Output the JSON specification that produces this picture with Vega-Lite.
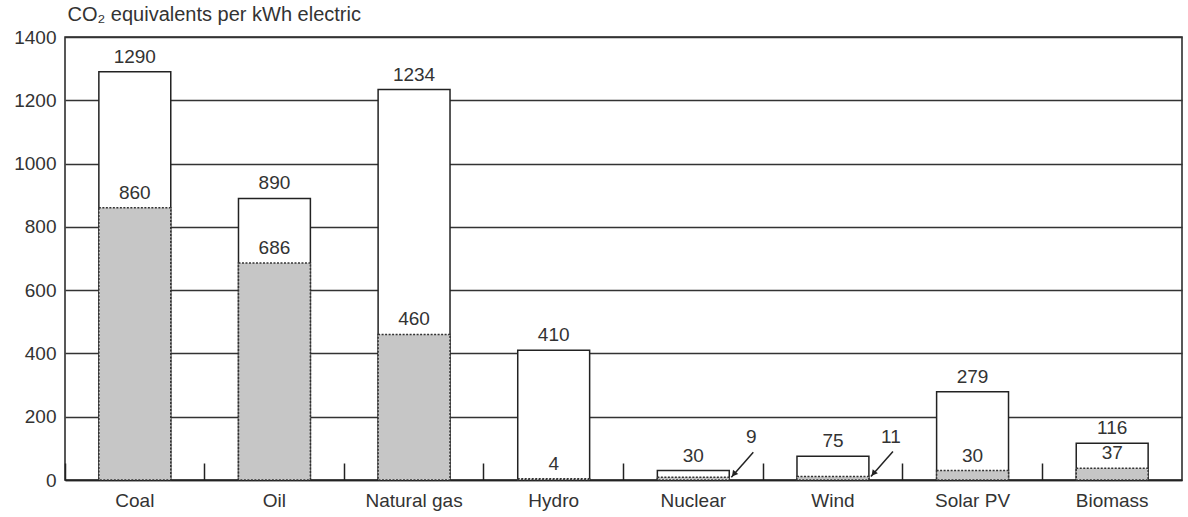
{
  "$schema": "https://vega.github.io/schema/vega-lite/v6.json",
  "autosize": {"type": "none"},
  "width": 1117,
  "height": 443,
  "padding": {"left": 65, "top": 37, "right": 6, "bottom": 37},
  "background": "white",
  "config": {
    "font": "Liberation Sans",
    "view": {"stroke": "#222", "strokeWidth": 1.5},
    "text": {"font": "Liberation Sans", "fontSize": 19, "fill": "#333"}
  },
  "data": {
    "values": [
      {"source": "Coal", "min": 860, "max": 1290},
      {"source": "Oil", "min": 686, "max": 890},
      {"source": "Natural gas", "min": 460, "max": 1234},
      {"source": "Hydro", "min": 4, "max": 410},
      {"source": "Nuclear", "min": 9, "max": 30},
      {"source": "Wind", "min": 11, "max": 75},
      {"source": "Solar PV", "min": 30, "max": 279},
      {"source": "Biomass", "min": 37, "max": 116}
    ]
  },
  "encoding": {
    "x": {
      "field": "source",
      "type": "nominal",
      "sort": null,
      "scale": {"paddingInner": 0, "paddingOuter": 0},
      "axis": {
        "title": null,
        "labelAngle": 0,
        "bandPosition": 0,
        "tickSize": -17,
        "tickWidth": 1.5,
        "tickColor": "#222",
        "domainColor": "#222",
        "domainWidth": 1.5,
        "labelFont": "Liberation Sans",
        "labelFontSize": 19,
        "labelColor": "#333",
        "labelPadding": 28
      }
    }
  },
  "layer": [
    {
      "mark": {"type": "bar", "width": {"band": 0.515}, "fill": "white", "stroke": "#222", "strokeWidth": 1.5},
      "encoding": {
        "y": {
          "field": "max",
          "type": "quantitative",
          "scale": {"domain": [0, 1400], "nice": false},
          "axis": {
            "values": [0, 200, 400, 600, 800, 1000, 1200, 1400],
            "format": "d",
            "domain": false,
            "ticks": false,
            "grid": true,
            "gridColor": "#333",
            "gridWidth": 1.5,
            "labelFont": "Liberation Sans",
            "labelFontSize": 19,
            "labelColor": "#333",
            "labelPadding": 9,
            "title": "CO₂ equivalents per kWh electric",
            "titleAngle": 0,
            "titleAlign": "left",
            "titleBaseline": "bottom",
            "titleX": 2,
            "titleY": -13,
            "titleFont": "Liberation Sans",
            "titleFontSize": 20,
            "titleFontWeight": "normal",
            "titleColor": "#333"
          }
        }
      }
    },
    {
      "mark": {"type": "bar", "width": {"band": 0.515}, "fill": "#c6c6c6", "stroke": "#333", "strokeWidth": 1.5, "strokeDash": [2, 1.5]},
      "encoding": {"y": {"field": "min", "type": "quantitative"}}
    },
    {
      "mark": {"type": "text", "baseline": "bottom", "dy": -5},
      "encoding": {"y": {"field": "max", "type": "quantitative"}, "text": {"field": "max"}}
    },
    {
      "transform": [{"filter": "datum.source !== 'Nuclear' && datum.source !== 'Wind'"}],
      "mark": {"type": "text", "baseline": "bottom", "dy": -5},
      "encoding": {"y": {"field": "min", "type": "quantitative"}, "text": {"field": "min"}}
    },
    {
      "transform": [{"filter": "datum.source === 'Nuclear' || datum.source === 'Wind'"}],
      "mark": {"type": "text", "baseline": "bottom", "dx": 58, "dy": -30},
      "encoding": {"y": {"field": "min", "type": "quantitative"}, "text": {"field": "min"}}
    },
    {
      "transform": [{"filter": "datum.source === 'Nuclear' || datum.source === 'Wind'"}],
      "mark": {"type": "rule", "xOffset": 38, "x2Offset": 60, "y2Offset": -25, "strokeWidth": 1.5, "color": "#222"},
      "encoding": {
        "x2": {"field": "source"},
        "y": {"field": "min", "type": "quantitative"},
        "y2": {"field": "min"}
      }
    },
    {
      "transform": [{"filter": "datum.source === 'Nuclear' || datum.source === 'Wind'"}],
      "mark": {"type": "point", "shape": "triangle-up", "angle": 219, "filled": true, "size": 45, "xOffset": 40.5, "yOffset": -3, "color": "#222", "opacity": 1},
      "encoding": {"y": {"field": "min", "type": "quantitative"}}
    }
  ]
}
